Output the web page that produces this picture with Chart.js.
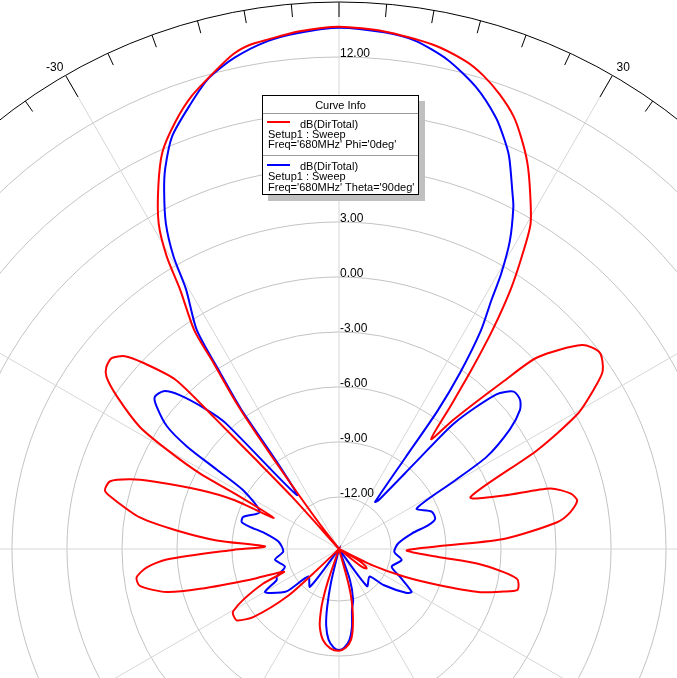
<!DOCTYPE html>
<html>
<head>
<meta charset="utf-8">
<script src="https://cdn.jsdelivr.net/npm/chart.js@4.4.1/dist/chart.umd.min.js"></script>
<style>
  html, body { margin: 0; padding: 0; width: 677px; height: 678px; overflow: hidden; background: #fff; }
  #plot { position: absolute; left: -241px; top: -31px; }
  #curveInfo {
    position: absolute; left: 262px; top: 95px; width: 155px; height: 98px;
    border: 1px solid #000; background: #fff; box-shadow: 6px 6px 0 #c0c0c0;
    font-family: "Liberation Sans", Arial, sans-serif; font-size: 11px; line-height: 12px; color: #000;
  }
  #curveInfo div { position: absolute; white-space: nowrap; }
  #curveInfo .hdr { left: 0; width: 100%; text-align: center; top: 3px; }
  #curveInfo .sep { left: 0; width: 100%; height: 1px; background: #9a9a9a; }
  #curveInfo .sw { left: 4px; width: 23px; height: 2px; }
</style>
</head>
<body>
<canvas id="plot" width="1160" height="1160"></canvas>
<div id="curveInfo">
  <div class="hdr">Curve Info</div>
  <div class="sep" style="top:17px"></div>
  <div class="sw" style="top:25px;background:#ff0000"></div>
  <div style="left:37px;top:22px">dB(DirTotal)</div>
  <div style="left:5px;top:32px">Setup1 : Sweep</div>
  <div style="left:5px;top:42px">Freq='680MHz' Phi='0deg'</div>
  <div class="sep" style="top:59px"></div>
  <div class="sw" style="top:68px;background:#0000ff"></div>
  <div style="left:37px;top:64px">dB(DirTotal)</div>
  <div style="left:5px;top:74px">Setup1 : Sweep</div>
  <div style="left:5px;top:85px">Freq='680MHz' Theta='90deg'</div>
</div>
<script>
// scale limits (dB)
const rMin = -14.84;
const rMax = 15;
const radiusTicks = [-12, -9, -6, -3, 0, 3, 6, 9, 12];
const angleTicks = [-150, -120, -90, -60, -30, 0, 30, 60, 90, 120, 150, 180];

// Phi = 0deg cut (red), angle in deg, clockwise from top
const redAngles = [-175, -170, -166, -164, -162.5, -161, -160, -150, -140, -135, -133.5, -132.5,
  -128.5, -125, -122, -120.5, -118, -114.5, -112.5, -109, -106, -104, -100.5, -98, -95.5, -93.5,
  -90.5, -88, -86, -83.5, -81, -77.5, -76, -73.5, -71.5, -70, -67, -65, -64.5, -62, -61.5, -60,
  -58.5, -55.5, -53.5, -52, -50, -48, -46.5, -44, -43.5, -43, -42, -40, -39, -37.5, -36.5, -36,
  -35.5, -35, -34, -33.5, -31.5, -30.5, -29, -26.5, -24, -21, -18, -14.5, -12, -10, -8, -4.5, 0,
  5, 10.5, 14.5, 17, 19.5, 22, 24, 26, 28, 30.5, 32, 33.5, 35, 36.5, 38, 40, 41.5, 44.5, 46, 50, 53,
  56, 58, 60.5, 63.5, 68.5, 72, 74, 76.5, 78.5, 81, 83, 86.5, 91, 94.5, 96, 98, 99.5, 101, 103,
  104.5, 107, 110, 113, 116, 118, 120, 123, 125.5, 128, 131, 145, 162, 164.5, 165.5, 167.5, 170,
  172.5, 176, 180];
const redDb = [-9.4, -9.8, -10.5, -11.2, -11.9, -13.0, -14.84, -14.84, -14.84, -14.84, -13.2, -11.0,
  -8.9, -8.05, -8.04, -8.14, -8.9, -10.3, -11.6, -9.7, -6.96, -5.14, -3.79, -3.69, -4.29, -5.42,
  -9.07, -10.8, -8.15, -5.93, -3.84, -2.24, -1.68, -1.82, -2.84, -4.07, -6.6, -8.48, -10.9, -8.32, -6.2, -4.0,
  -2.1, -0.14, 0.94, 1.27, 1.35, 0.88, -0.06, -2.0, -5.0, -8.0, -11.0, -14.84, -14.84, -13.0, -10.8, -8.8,
  -6.5, -4.9, -2.6, -0.54, 1.74, 3.67, 5.45, 7.25, 8.85, 10.1, 11.15, 12.1, 12.78, 13.09, 13.22, 13.48, 13.65,
  13.5, 13.15, 12.66, 12.15, 11.45, 10.6, 9.65, 8.6, 7.35, 5.75, 3.98, 2.1, -0.21, -2.73, -4.98, -7.02, -5.42, -1.97, 0.22, 2.47, 2.97,
  2.51, 1.53, 0.11, -2.76, -7.13, -5.39, -2.85, -1.86, -1.58, -2.07, -2.85, -5.84, -11.13, -9.48, -7.27, -5.77, -5.0, -4.86, -4.87,
  -5.57, -6.79, -9.15, -11.0, -12.8, -14.84, -13.6, -13.1, -13.0, -13.3, -14.84, -14.84, -14.84, -13.2, -12.3, -11.4, -10.5,
  -9.84, -9.45, -9.29];

// Theta = 90deg cut (blue)
const blueAngles = [-177, -173.5, -170.5, -168.5, -166.5, -164, -155, -148, -142.5, -132, -129, -122.5,
  -120, -116.5, -114, -108, -99.5, -92.5, -83, -78, -76, -74.5, -71.5, -65, -58.5, -57, -56, -54.5,
  -52, -50.5, -48, -46, -43.5, -42, -38, -35.5, -35, -34, -33, -30.5, -29.5, -28, -26, -24.5, -22,
  -18.5, -15.5, -12, -8, -4.5, 0, 5, 8.5, 12.5, 16.5, 20, 22, 23.5, 26, 27, 29, 30.5, 31.5, 33, 34.5, 35.5,
  36, 37.5, 39, 41.5, 42.5, 45.5, 48, 50.5, 52.5, 55, 58, 59.5, 62.5, 68, 72.5, 75, 78, 84.5, 93,
  100, 108.5, 114.5, 120.5, 123, 129, 132, 143, 148, 158, 160.5, 164.5, 168, 170.5, 173.5, 177, 180];
const blueDb = [-9.45, -9.85, -10.6, -11.6, -13.0, -14.84, -14.84, -14.84, -12.24, -12.59, -11.16, -10.37,
  -10.18, -11.04, -11.12, -11.74, -11.3, -11.8, -11.51, -10.72, -9.83, -9.33, -9.33, -10.07, -8.71, -6.9, -4.83, -3.31,
  -2.22, -1.81, -1.97, -2.76, -4.37, -5.6, -11.1, -8.9, -5.5, -3.26, -0.59, 1.6, 3.49, 5.28, 6.92, 8.01, 9.45,
  10.73, 11.8, 12.56, 13.14, 13.4, 13.6, 13.45, 13.2, 12.5, 11.45, 10.2, 9.25, 8.45, 6.75, 6.11, 4.39, 2.59, 1.06, -0.62, -3.19, -5.6,
  -8.7, -11.6, -11.44, -8.46, -5.51, -2.8, -2.01, -2.04, -2.4, -3.46, -5.33, -7.61, -10.06, -9.39, -9.34, -9.79, -10.78, -11.59, -11.82,
  -11.37, -11.81, -11.19, -10.24, -10.43, -11.72, -12.6, -12.3, -14.84, -14.84, -13.05, -11.95, -11.44, -10.55, -9.84, -9.45, -9.33];

// radar needs evenly spaced labels: one every half degree
const steps = 720;
const labels = [];
for (let i = 0; i < steps; i++) {
  const a = i / 2;
  labels.push(a > 180 ? a - 360 : a);
}

function angleIndex(d) {
  return Math.round((((d % 360) + 360) % 360) * 2) % steps;
}

function toSeries(angles, values) {
  const out = new Array(steps).fill(null);
  angles.forEach((a, k) => {
    out[angleIndex(a)] = Math.max(values[k], rMin);
  });
  return out;
}

// outer ring ticks, angle labels and dB labels like the HFSS plot
const polarDecor = {
  id: 'polarDecor',
  beforeDatasetsDraw(chart) {
    const s = chart.scales.r;
    const ctx = chart.ctx;
    const R = s.drawingArea;
    ctx.save();
    ctx.strokeStyle = '#000';
    ctx.lineWidth = 1;
    ctx.beginPath();
    for (let d = -175; d <= 180; d += 5) {
      const len = d === 0 ? 15 : (d % 30 === 0 ? 25 : 13);
      const p1 = s.getPointPosition(angleIndex(d), R);
      const p2 = s.getPointPosition(angleIndex(d), R - len);
      ctx.moveTo(p1.x, p1.y);
      ctx.lineTo(p2.x, p2.y);
    }
    ctx.stroke();

    ctx.fillStyle = '#000';
    ctx.font = '12px "Liberation Sans", Arial, sans-serif';
    ctx.textAlign = 'center';
    ctx.textBaseline = 'middle';
    angleTicks.forEach(d => {
      // labels sit a touch past their tick, as in the original
      const off = d === 0 || d === 180 ? 0 : Math.sign(d) * 0.4;
      const p = s.getPointPosition(angleIndex(d + off), R + 13);
      ctx.fillText(String(d), p.x, p.y + 1);
    });

    ctx.textAlign = 'left';
    ctx.textBaseline = 'alphabetic';
    radiusTicks.forEach(v => {
      const y = s.yCenter - s.getDistanceFromCenterForValue(v);
      ctx.fillText(v.toFixed(2), s.xCenter + 1, y);
    });
    ctx.restore();
  }
};

const ctx = document.getElementById('plot').getContext('2d');
new Chart(ctx, {
  type: 'radar',
  data: {
    labels: labels,
    datasets: [{
      label: "Phi='0deg'",
      data: toSeries(redAngles, redDb),
      borderColor: '#ff0000',
      borderWidth: 2,
      fill: false,
      spanGaps: true,
      tension: 0.25,
      pointRadius: 0,
      pointHitRadius: 0
    }, {
      label: "Theta='90deg'",
      data: toSeries(blueAngles, blueDb),
      borderColor: '#0000ff',
      borderWidth: 2,
      fill: false,
      spanGaps: true,
      tension: 0.25,
      pointRadius: 0,
      pointHitRadius: 0
    }]
  },
  options: {
    responsive: false,
    animation: false,
    layout: { padding: 33 },
    plugins: {
      legend: { display: false },
      tooltip: { enabled: false }
    },
    scales: {
      r: {
        min: rMin,
        max: rMax,
        startAngle: 0,
        ticks: { display: false, stepSize: 3 },
        pointLabels: { display: false },
        grid: {
          circular: true,
          lineWidth: 1,
          color: c => (c.tick && c.tick.value === rMax ? '#000000' : '#c3c3c3')
        },
        angleLines: {
          color: '#d6d6d6',
          lineWidth: c => (c.index % 60 === 0 ? 1 : 0)
        }
      }
    }
  },
  plugins: [polarDecor]
});
</script>
</body>
</html>
